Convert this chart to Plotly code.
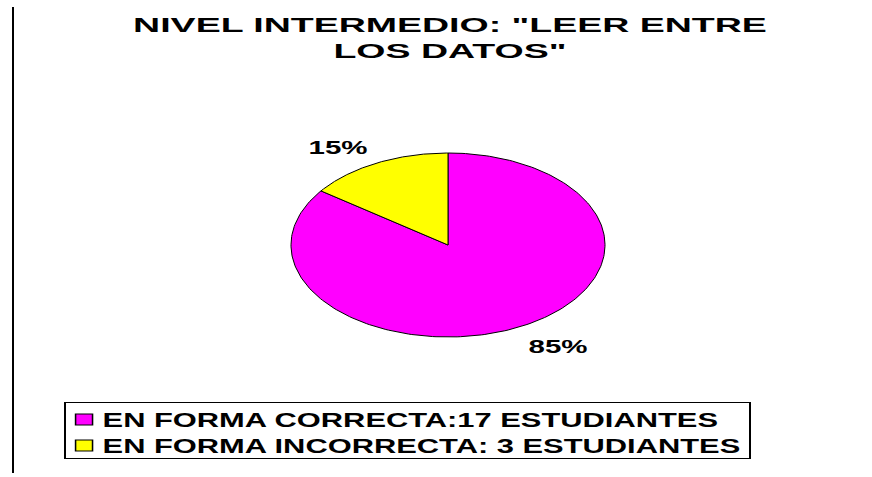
import numpy as np
import plotly.graph_objects as go

title_lines = ["NIVEL INTERMEDIO: \"LEER ENTRE", "LOS DATOS\""]
categories = ["EN FORMA CORRECTA:17 ESTUDIANTES", "EN FORMA INCORRECTA: 3 ESTUDIANTES"]
values = [17, 3]
colors = ["#FF00FF", "#FFFF00"]

W, H = 872, 477
cx_px, cy_px, rx_px, ry_px = 448, 245, 157, 92
FONT = "Liberation Sans, Arial, sans-serif"

fig = go.Figure()

total = sum(values)
fracs = [v / total for v in values]
# the incorrect slice starts at 12 o'clock going counter-clockwise, the correct one follows
starts = {1: 0.0, 0: fracs[1]}
order = [0, 1]
for i in order:
    a0 = starts[i] * 2 * np.pi
    a1 = a0 + fracs[i] * 2 * np.pi
    t = np.linspace(a0, a1, 240)
    xs = np.concatenate([[0], -np.sin(t), [0]])
    ys = np.concatenate([[0], np.cos(t), [0]])
    fig.add_trace(go.Scatter(x=xs, y=ys, fill="toself", fillcolor=colors[i], mode="lines",
                             line=dict(color="black", width=1), showlegend=False, hoverinfo="skip"))
    mid = (a0 + a1) / 2
    fig.add_annotation(x=-np.sin(mid) * 1.55, y=np.cos(mid) * 1.21, yshift=-2.5,
                       text=f"{round(fracs[i]*100)}%", showarrow=False,
                       font=dict(family=FONT, size=18, color="black", weight="bold"))

for i in order:
    fig.add_trace(go.Scatter(x=[None], y=[None], mode="markers", name=categories[i],
                             marker=dict(symbol="square", size=11, color=colors[i],
                                         line=dict(color="black", width=1))))

fig.add_shape(type="line", xref="paper", yref="paper", x0=13 / W, x1=13 / W,
              y0=1 - 7 / H, y1=1 - 473 / H, line=dict(color="black", width=2))

fig.update_layout(
    width=W, height=H,
    margin=dict(l=0, r=0, t=0, b=0),
    paper_bgcolor="white", plot_bgcolor="white",
    title=dict(text="<br>".join(title_lines), x=450 / W, xanchor="center",
               y=1 - 32 / H, yanchor="top",
               font=dict(family=FONT, size=20, color="black", weight="bold")),
    xaxis=dict(range=[-cx_px / rx_px, (W - cx_px) / rx_px], visible=False, fixedrange=True),
    yaxis=dict(range=[-(H - cy_px) / ry_px, cy_px / ry_px], visible=False, fixedrange=True),
    legend=dict(x=64 / W, y=1 - 402 / H, xanchor="left", yanchor="top",
                bordercolor="black", borderwidth=1, bgcolor="white",
                font=dict(family=FONT, size=20, color="black", weight="bold"),
                tracegroupgap=0),
    showlegend=True,
)

post = r"""
try {
  document.body.style.margin = '0';
  var gd = document.querySelector('.plotly-graph-div');
  // title: stretch horizontally like the reference
  var tt = gd.querySelector('text.gtitle');
  if (tt) {
    var bb = tt.getBBox();
    var s = 634 / bb.width, c = bb.x + bb.width / 2;
    tt.setAttribute('transform', 'translate(450,0) scale(' + s + ',1) translate(' + (-c) + ',0)');
  }
  // percentage labels
  gd.querySelectorAll('text.annotation-text').forEach(function (el) {
    var b = el.getBBox();
    var s2 = 59 / b.width, c2 = b.x + b.width / 2;
    el.setAttribute('transform', 'translate(' + c2 + ',0) scale(' + s2 + ',1) translate(' + (-c2) + ',0)');
  });
  // legend: tighten gaps then stretch
  var lg = gd.querySelector('g.legend');
  if (lg) {
    var tshift = 16, pshift = 8;
    lg.querySelectorAll('text.legendtext').forEach(function (el) {
      el.setAttribute('x', parseFloat(el.getAttribute('x')) - tshift);
    });
    lg.querySelectorAll('g.legendpoints').forEach(function (el) {
      el.setAttribute('transform', 'translate(' + (-pshift) + ',0) ' + (el.getAttribute('transform') || ''));
    });
    lg.querySelectorAll('rect.legendtoggle').forEach(function (el) {
      el.setAttribute('width', parseFloat(el.getAttribute('width')) - tshift);
    });
    var items = lg.querySelectorAll('g.traces');
    var ys = [];
    items.forEach(function (el) {
      var m = /translate\(\s*([-\d.e]+)[ ,]+([-\d.e]+)\s*\)/.exec(el.getAttribute('transform') || '');
      ys.push(m ? [parseFloat(m[1]), parseFloat(m[2])] : null);
    });
    if (ys.length && ys[0]) {
      var y0 = ys[0][1] - 3;
      items.forEach(function (el, k) {
        if (ys[k]) el.setAttribute('transform', 'translate(' + ys[k][0] + ',' + (y0 + 26 * k) + ')');
      });
    }
    var bg = lg.querySelector('rect.bg');
    var w = parseFloat(bg.getAttribute('width')) - tshift;
    bg.setAttribute('width', w);
    bg.setAttribute('height', 56);
    var s3 = 685 / w;
    var t0 = lg.getAttribute('transform') || '';
    lg.setAttribute('transform', 'translate(64,0) scale(' + s3 + ',1) translate(-64,0) ' + t0);
  }
} catch (e) { console.log(e); }
"""

fig.write_html("out.html", post_script=post, config={"displayModeBar": False})
